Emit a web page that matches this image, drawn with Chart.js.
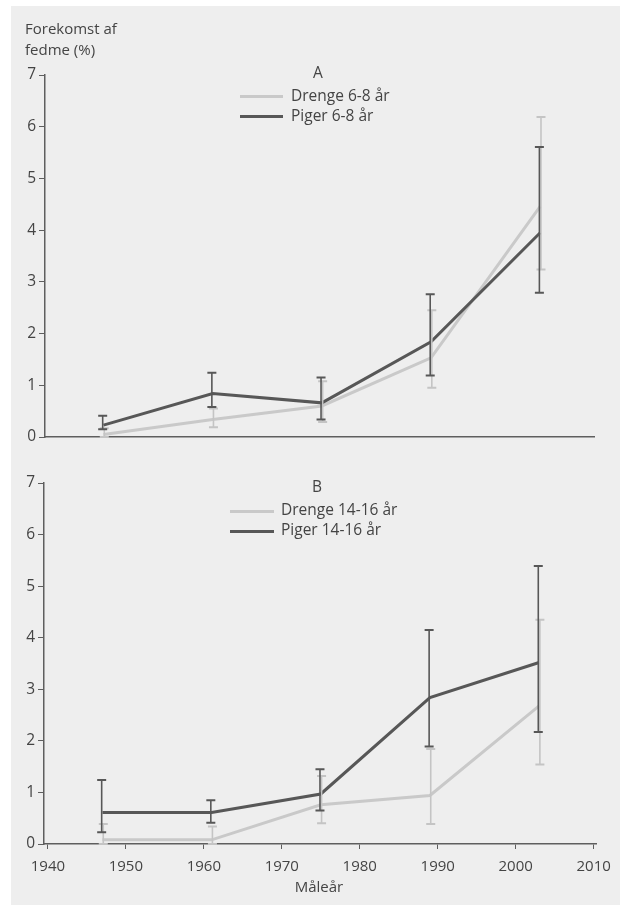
<!DOCTYPE html>
<html>
<head>
<meta charset="utf-8">
<script src="https://cdn.jsdelivr.net/npm/chart.js@4.4.1/dist/chart.umd.min.js"></script>
<style>
  body { margin: 0; background: #fff; font-family: "Open Sans", sans-serif; color: #444; }
  #panel { position: absolute; left: 11px; top: 6px; width: 609px; height: 899px; background: #eeeeee; }
  canvas { position: absolute; left: 0; top: 0; }
  .t { position: absolute; white-space: nowrap; line-height: 1; }
  .sw { position: absolute; height: 3px; }
</style>
</head>
<body>
<div id="panel"></div>
<canvas id="chartA" width="625" height="909"></canvas>
<canvas id="chartB" width="625" height="909"></canvas>
<div id="labels"></div>
<script>
// values
const years = [1947, 1961, 1975, 1989, 2003];
const xTicks = [1940, 1950, 1960, 1970, 1980, 1990, 2000, 2010];
const yTicks = [0, 1, 2, 3, 4, 5, 6, 7];

const drengeA = [0.05, 0.34, 0.60, 1.53, 4.46];
const drengeALow = [0.00, 0.19, 0.29, 0.95, 3.24];
const drengeAHigh = [0.17, 0.55, 1.08, 2.45, 6.19];
const pigerA = [0.23, 0.84, 0.66, 1.84, 3.95];
const pigerALow = [0.15, 0.58, 0.34, 1.19, 2.79];
const pigerAHigh = [0.41, 1.24, 1.15, 2.76, 5.61];

const drengeB = [0.08, 0.08, 0.76, 0.94, 2.68];
const drengeBLow = [0.00, 0.00, 0.40, 0.39, 1.54];
const drengeBHigh = [0.39, 0.34, 1.32, 1.84, 4.35];
const pigerB = [0.61, 0.61, 0.97, 2.84, 3.52];
const pigerBLow = [0.23, 0.41, 0.65, 1.89, 2.17];
const pigerBHigh = [1.24, 0.85, 1.45, 4.15, 5.39];

const labelsA = ["Drenge 6-8 år", "Piger 6-8 år"];
const labelsB = ["Drenge 14-16 år", "Piger 14-16 år"];
const yTitle = ["Forekomst af", "fedme (%)"];
const xTitle = "Måleår";

const LIGHT = "#c9c9c9";
const DARK = "#575757";
const AXIS = "#5e5e5e";

// error bars drawn from the same scales as the lines
const errorBars = {
    id: "errorBars",
    afterDatasetsDraw(chart) {
        const { ctx, scales: { x, y } } = chart;
        chart.data.datasets.forEach(ds => {
            ctx.save();
            ctx.strokeStyle = ds.errColor;
            ds.data.forEach((p, i) => {
                const px = x.getPixelForValue(p.x) + ds.errShift;
                const yl = y.getPixelForValue(ds.errLow[i]);
                const yh = y.getPixelForValue(ds.errHigh[i]);
                ctx.lineWidth = 1.6;
                ctx.beginPath();
                ctx.moveTo(px, yl);
                ctx.lineTo(px, yh);
                ctx.stroke();
                ctx.lineWidth = 2;
                ctx.beginPath();
                ctx.moveTo(px - 4.5, yl); ctx.lineTo(px + 4.5, yl);
                ctx.moveTo(px - 4.5, yh); ctx.lineTo(px + 4.5, yh);
                ctx.stroke();
            });
            ctx.restore();
        });
    }
};

function makeChart(id, drenge, dLow, dHigh, piger, pLow, pHigh, box, showX) {
    const xHeight = showX ? 40 : 0;
    return new Chart(document.getElementById(id), {
        type: "line",
        data: {
            datasets: [
                {
                    label: "Drenge",
                    data: years.map((yr, i) => ({ x: yr, y: drenge[i] })),
                    borderColor: LIGHT,
                    borderWidth: 3,
                    order: 1,
                    errLow: dLow, errHigh: dHigh, errColor: "#c4c4c4", errShift: 0.8,
                },
                {
                    label: "Piger",
                    data: years.map((yr, i) => ({ x: yr, y: piger[i] })),
                    borderColor: DARK,
                    borderWidth: 3,
                    order: 0,
                    errLow: pLow, errHigh: pHigh, errColor: DARK, errShift: -0.8,
                },
            ],
        },
        options: {
            responsive: false,
            animation: false,
            devicePixelRatio: 1,
            clip: false,
            elements: { point: { radius: 0 }, line: { tension: 0 } },
            layout: {
                padding: { left: 0, top: box.top, right: 625 - box.right, bottom: 909 - box.bottom - xHeight },
            },
            plugins: { legend: { display: false }, tooltip: { enabled: false } },
            scales: {
                x: {
                    type: "linear",
                    min: 1939.5,
                    max: box.xmax,
                    afterBuildTicks: s => { s.ticks = xTicks.map(v => ({ value: v })); },
                    afterFit: s => { s.height = xHeight; },
                    grid: { drawOnChartArea: false, drawTicks: showX, tickLength: 5, color: AXIS, lineWidth: 1 },
                    border: { display: true, color: AXIS, width: 1.5 },
                    ticks: {
                        display: showX, autoSkip: false, maxRotation: 0, padding: 9,
                        color: "#444", font: { family: "Open Sans", size: 15 },
                        callback: v => String(v),
                    },
                },
                y: {
                    min: 0,
                    max: 7,
                    afterBuildTicks: s => { s.ticks = yTicks.map(v => ({ value: v })); },
                    afterFit: s => { s.width = box.left; },
                    grid: { drawOnChartArea: false, tickLength: 6, color: AXIS, lineWidth: 1 },
                    border: { display: true, color: AXIS, width: 1.5 },
                    ticks: {
                        padding: 3, color: "#444", font: { family: "Open Sans", size: 15.5 },
                        callback: v => String(v),
                    },
                },
            },
        },
        plugins: [errorBars],
    });
}

makeChart("chartA", drengeA, drengeALow, drengeAHigh, pigerA, pigerALow, pigerAHigh,
    { left: 45, right: 594, top: 75, bottom: 437, xmax: 2009.9 }, false);
makeChart("chartB", drengeB, drengeBLow, drengeBHigh, pigerB, pigerBLow, pigerBHigh,
    { left: 44, right: 596, top: 483, bottom: 844, xmax: 2010.3 }, true);

// text and legend overlays
const lab = document.getElementById("labels");
function addText(txt, x, y, size, center) {
    const d = document.createElement("div");
    d.className = "t";
    d.textContent = txt;
    d.style.fontSize = size + "px";
    d.style.top = (y - 0.531 * size) + "px";
    d.style.left = x + "px";
    if (center) d.style.transform = "translateX(-50%)";
    lab.appendChild(d);
}
function addSwatch(x, y, w, color) {
    const d = document.createElement("div");
    d.className = "sw";
    d.style.left = x + "px";
    d.style.top = (y - 1.5) + "px";
    d.style.width = w + "px";
    d.style.background = color;
    lab.appendChild(d);
}

addText(yTitle[0], 25, 29, 15, false);
addText(yTitle[1], 25, 50, 15, false);

addText("A", 318, 73, 15.5, true);
addSwatch(240, 96.5, 43, LIGHT);
addSwatch(240, 116.5, 43, DARK);
addText(labelsA[0], 291, 96, 15.5, false);
addText(labelsA[1], 291, 116, 15.5, false);

addText("B", 317, 487, 15.5, true);
addSwatch(230, 511, 44, LIGHT);
addSwatch(230, 531, 44, DARK);
addText(labelsB[0], 281, 510, 15.5, false);
addText(labelsB[1], 281, 530, 15.5, false);

addText(xTitle, 319, 887, 15, true);
</script>
</body>
</html>
